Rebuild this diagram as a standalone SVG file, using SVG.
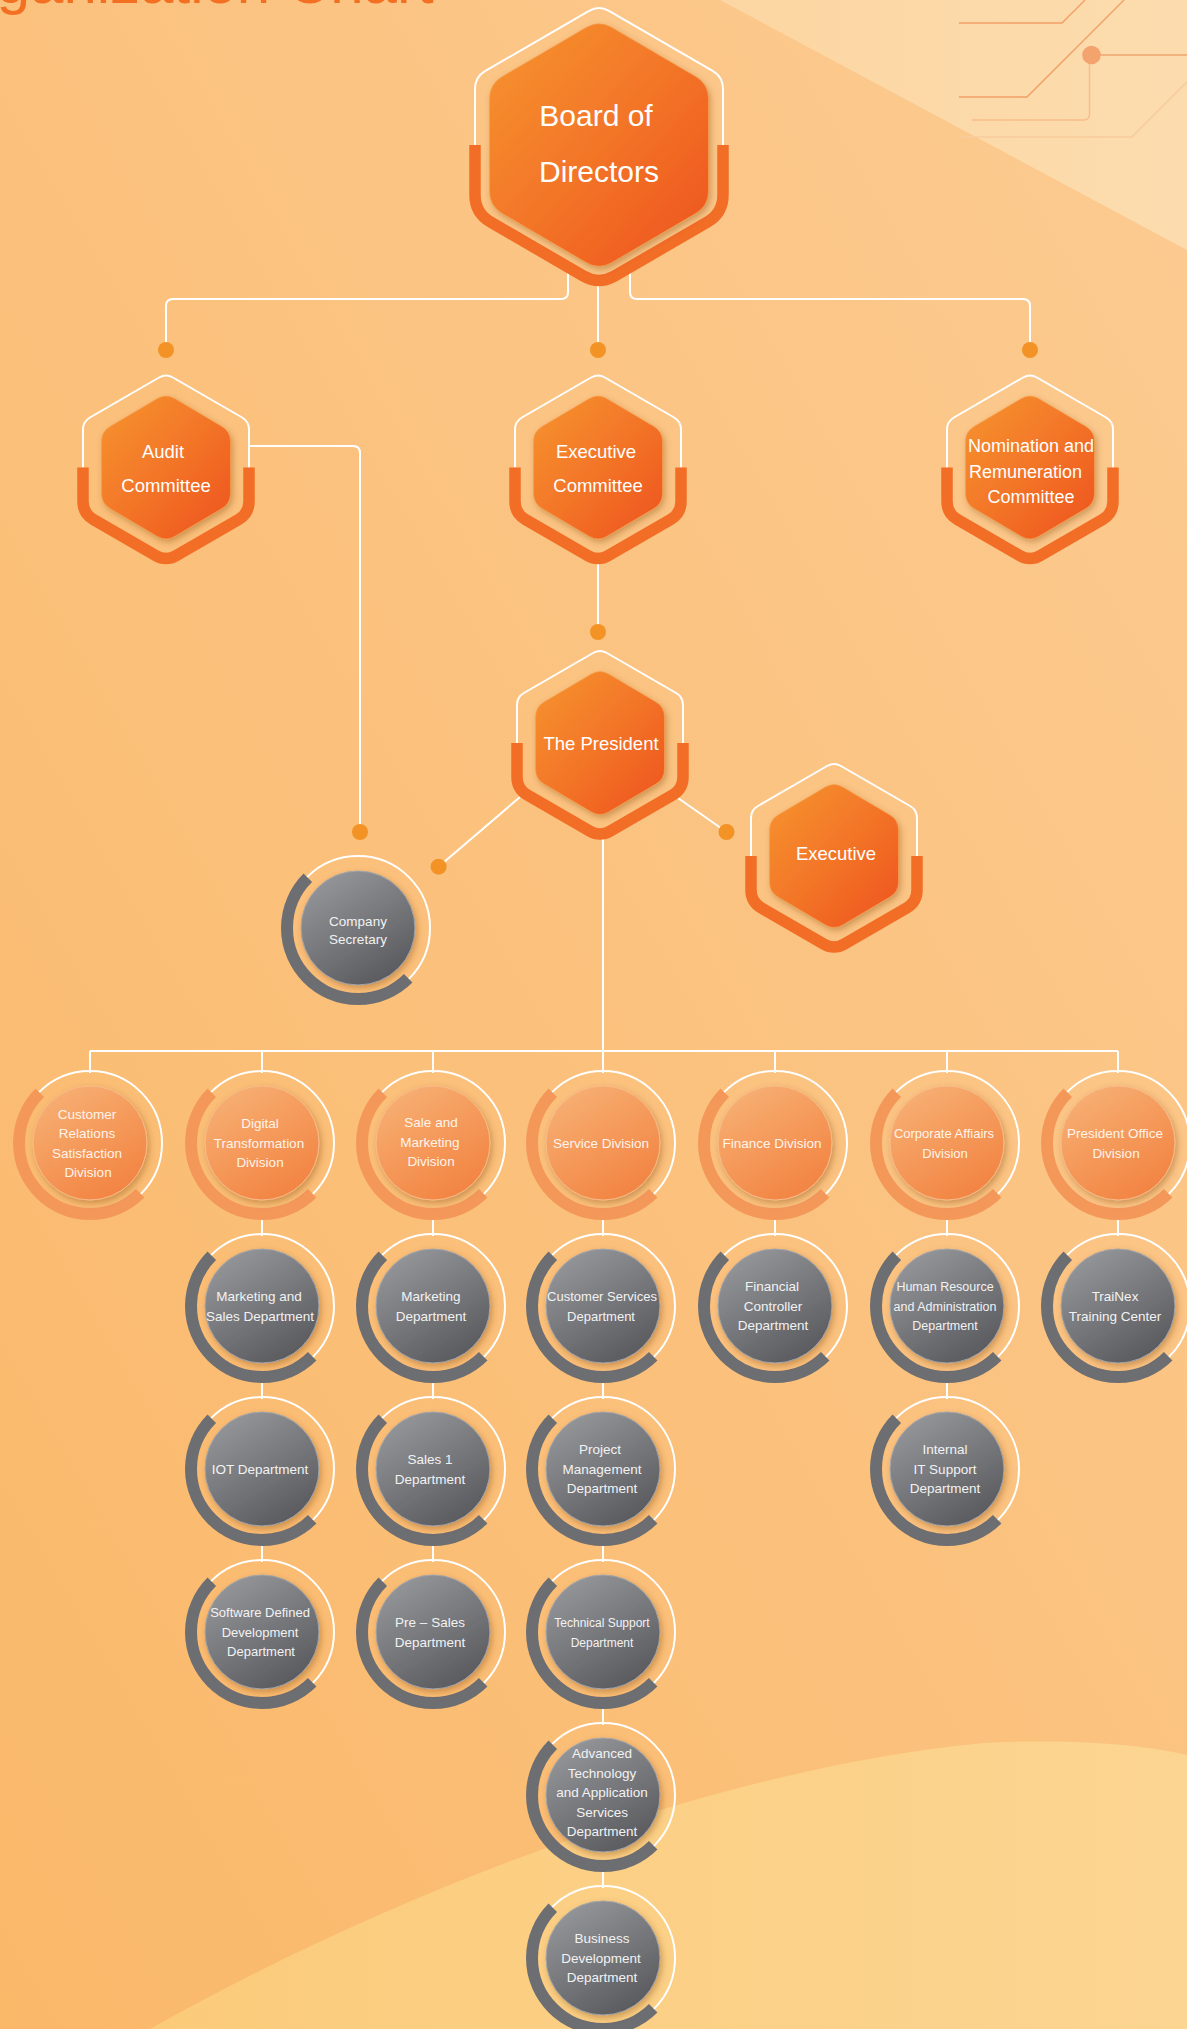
<svg xmlns="http://www.w3.org/2000/svg" xmlns:xlink="http://www.w3.org/1999/xlink" width="1187" height="2029" viewBox="0 0 1187 2029">
<style>
.wire{fill:none;stroke:#fff;stroke-width:2}
.dot{fill:#F39325}
.hx-line{fill:none;stroke:#fff;stroke-width:2}
.hx-brk{fill:none;stroke:#F26D26;stroke-width:11.5}
.hx-in{fill:url(#gHex);stroke:#F7A24C;stroke-width:1;stroke-opacity:.6}
.t{font-family:"Liberation Sans",Arial,Helvetica,sans-serif;text-anchor:middle}
.t-hx{fill:#fff;font-size:18.5px}
.ring{fill:none;stroke:#fff;stroke-width:2}
.arc-o{fill:none;stroke:#F4985A;stroke-width:12}
.arc-g{fill:none;stroke:#6D6E72;stroke-width:12}
.c-o{fill:url(#gOr);stroke:#F8BC88;stroke-width:1}
.c-g{fill:url(#gGr);stroke:#A3A5A9;stroke-width:1}
.t-o{fill:#FFF4EA;font-size:13.5px}
.t-g{fill:#F2F2F2;font-size:13.5px}
.circ{fill:none;stroke-width:1.4}
</style>
<defs>
<linearGradient id="gBg" x1="0" y1="1" x2="1" y2="0">
<stop offset="0" stop-color="#FAB869"/><stop offset="1" stop-color="#FCCB92"/>
</linearGradient>
<linearGradient id="gYel" x1="0" y1="0" x2="1" y2="0">
<stop offset="0" stop-color="#FBCB7A"/><stop offset="1" stop-color="#FCD592"/>
</linearGradient>
<linearGradient id="gTri" x1="0" y1="0" x2="1" y2="0">
<stop offset="0" stop-color="#FCD6A2"/><stop offset="1" stop-color="#FCDCAE"/>
</linearGradient>
<linearGradient id="gHex" x1="0" y1="0" x2="1" y2="1">
<stop offset="0" stop-color="#F6952F"/><stop offset=".5" stop-color="#F37528"/><stop offset="1" stop-color="#EE521C"/>
</linearGradient>
<linearGradient id="gOr" x1=".2" y1="0" x2=".8" y2="1">
<stop offset="0" stop-color="#F7B074"/><stop offset="1" stop-color="#F2813F"/>
</linearGradient>
<linearGradient id="gGr" x1=".2" y1="0" x2=".8" y2="1">
<stop offset="0" stop-color="#97989C"/><stop offset="1" stop-color="#56575B"/>
</linearGradient>
<filter id="sh" x="-25%" y="-25%" width="160%" height="160%">
<feDropShadow dx="2" dy="3" stdDeviation="3" flood-color="#7A3B05" flood-opacity="0.35"/>
</filter>
<path id="hxS-top" d="M -83,0 L -83,-38 Q -83,-46 -76.08,-50 L -6.92,-90 Q 0,-94 6.92,-90 L 76.08,-50 Q 83,-46 83,-38 L 83,0"/>
<path id="hxS-bot" d="M -83,0 L -83,34 Q -83,46 -72.61,52.01 L -10.39,87.99 Q 0,94 10.39,87.99 L 72.61,52.01 Q 83,46 83,34 L 83,0"/>
<path id="hxS-in" d="M -8.61,-68.93 Q 0,-74 8.61,-68.93 L 55.89,-41.07 Q 64.5,-36 64.5,-26 L 64.5,26 Q 64.5,36 55.89,41.07 L 8.61,68.93 Q 0,74 -8.61,68.93 L -55.89,41.07 Q -64.5,36 -64.5,26 L -64.5,-26 Q -64.5,-36 -55.89,-41.07 Z"/>
<path id="hxL-top" d="M -124,0 L -124,-56 Q -124,-68 -113.62,-74.03 L -10.38,-133.97 Q 0,-140 10.38,-133.97 L 113.62,-74.03 Q 124,-68 124,-56 L 124,0"/>
<path id="hxL-bot" d="M -124,0 L -124,50 Q -124,68 -108.44,77.04 L -15.56,130.96 Q 0,140 15.56,130.96 L 108.44,77.04 Q 124,68 124,50 L 124,0"/>
<path id="hxL-in" d="M -12.95,-117.43 Q 0,-125 12.95,-117.43 L 96.55,-68.57 Q 109.5,-61 109.5,-46 L 109.5,46 Q 109.5,61 96.55,68.57 L 12.95,117.43 Q 0,125 -12.95,117.43 L -96.55,68.57 Q -109.5,61 -109.5,46 L -109.5,-46 Q -109.5,-61 -96.55,-68.57 Z"/>
<circle id="ring" r="72"/>
<path id="arc" d="M 50.2,50.2 A 71 71 0 0 1 -50.2,50.2 A 71 71 0 0 1 -50.2,-50.2"/>
<circle id="core" r="57"/>
</defs>

<g id="background">
<rect x="0" y="0" width="1187" height="2029" fill="url(#gBg)"/>
<polygon points="720,0 1187,0 1187,250" fill="url(#gTri)"/>
<path d="M 150,2029 C 380,1900 700,1770 984,1743 C 1080,1738 1150,1746 1187,1755 L 1187,2029 Z" fill="url(#gYel)"/>
<g id="circuit">
<path class="circ" stroke="#F2A068" d="M 959,23 L 1062,23 L 1085,0"/>
<path class="circ" stroke="#F2A068" d="M 959,97 L 1027,97 L 1124,0"/>
<path class="circ" stroke="#F2A470" d="M 1092,55 L 1187,55"/>
<path class="circ" stroke="#F7BD8A" stroke-width="1.8" d="M 1089.5,55 L 1089.5,114 Q 1089.5,120 1083.5,120 L 972,120"/>
<path class="circ" stroke="#F9CB9C" d="M 959,137 L 1132,137 L 1187,82"/>
<circle cx="1091.5" cy="55" r="9.3" fill="#F2A36E"/>
</g>
<text x="-70" y="3" font-family="Liberation Sans, Arial, sans-serif" font-size="60" fill="#F36F21">Organization Chart</text>
</g>

<g id="connectors">
<path class="wire" d="M 568,270 L 568,292 Q 568,299 561,299 L 173,299 Q 166,299 166,306 L 166,344"/>
<path class="wire" d="M 598,280 L 598,344"/>
<path class="wire" d="M 630,270 L 630,292 Q 630,299 637,299 L 1023,299 Q 1030,299 1030,306 L 1030,344"/>
<path class="wire" d="M 598,555 L 598,626"/>
<path class="wire" d="M 249,446 L 353,446 Q 360,446 360,453 L 360,826"/>
<path class="wire" d="M 520,797 L 438.6,866.7"/>
<path class="wire" d="M 678,798 L 726.5,832"/>
<path class="wire" d="M 603,830 L 603,1051"/>
<path class="wire" d="M 90,1051 L 1118,1051"/>
<path class="wire" d="M 90,1051 V 1073 M 262,1051 V 1073 M 433,1051 V 1073 M 775,1051 V 1073 M 947,1051 V 1073 M 1118,1051 V 1073 M 603,1051 V 1073"/>
<path class="wire" d="M 262,1215 V 1236 M 262,1378 V 1399 M 262,1541 V 1562"/>
<path class="wire" d="M 433,1215 V 1236 M 433,1378 V 1399 M 433,1541 V 1562"/>
<path class="wire" d="M 603,1215 V 1236 M 603,1378 V 1399 M 603,1541 V 1562 M 603,1704 V 1725 M 603,1867 V 1888"/>
<path class="wire" d="M 775,1215 V 1236"/>
<path class="wire" d="M 947,1215 V 1236 M 947,1378 V 1399"/>
<path class="wire" d="M 1118,1215 V 1236"/>
<circle class="dot" cx="166" cy="350" r="8"/>
<circle class="dot" cx="598" cy="350" r="8"/>
<circle class="dot" cx="1030" cy="350" r="8"/>
<circle class="dot" cx="598" cy="632" r="8"/>
<circle class="dot" cx="360" cy="832" r="8"/>
<circle class="dot" cx="438.6" cy="866.7" r="8"/>
<circle class="dot" cx="726.5" cy="832" r="8"/>
</g>

<g id="n-board" transform="translate(599,145)">
<use href="#hxL-top" class="hx-line"/>
<use href="#hxL-bot" class="hx-brk"/>
<use href="#hxL-in" class="hx-in" filter="url(#sh)"/>
<text class="t" fill="#fff" font-size="30"><tspan x="-3" y="-19">Board of</tspan><tspan x="0" y="37">Directors</tspan></text>
</g>

<g id="n-audit" transform="translate(166,467.5)">
<use href="#hxS-top" class="hx-line"/>
<use href="#hxS-bot" class="hx-brk"/>
<use href="#hxS-in" class="hx-in" filter="url(#sh)"/>
<text class="t t-hx"><tspan x="-3" y="-9.5">Audit</tspan><tspan x="0" y="24.5">Committee</tspan></text>
</g>

<g id="n-exec-committee" transform="translate(598,467.5)">
<use href="#hxS-top" class="hx-line"/>
<use href="#hxS-bot" class="hx-brk"/>
<use href="#hxS-in" class="hx-in" filter="url(#sh)"/>
<text class="t t-hx"><tspan x="-2" y="-9.5">Executive</tspan><tspan x="0" y="24.5">Committee</tspan></text>
</g>

<g id="n-nomination" transform="translate(1030,467.5)">
<use href="#hxS-top" class="hx-line"/>
<use href="#hxS-bot" class="hx-brk"/>
<use href="#hxS-in" class="hx-in" filter="url(#sh)"/>
<text class="t t-hx" font-size="18px" style="font-size:18px"><tspan x="1" y="-16">Nomination and</tspan><tspan x="-2" y="10.5">Remuneration </tspan><tspan x="1" y="35.5">Committee</tspan></text>
</g>

<g id="n-president" transform="translate(600,743)">
<use href="#hxS-top" class="hx-line"/>
<use href="#hxS-bot" class="hx-brk"/>
<use href="#hxS-in" class="hx-in" filter="url(#sh)"/>
<text class="t t-hx" x="1" y="6.5">The President</text>
</g>

<g id="n-executive" transform="translate(834,856)">
<use href="#hxS-top" class="hx-line"/>
<use href="#hxS-bot" class="hx-brk"/>
<use href="#hxS-in" class="hx-in" filter="url(#sh)"/>
<text class="t t-hx" x="2" y="4">Executive</text>
</g>

<g id="n-company-secretary" transform="translate(358,928)">
<use href="#ring" class="ring"/><use href="#arc" class="arc-g"/><use href="#core" class="c-g" filter="url(#sh)"/>
<text class="t t-g"><tspan x="0" y="-2.5">Company</tspan><tspan x="0" y="16">Secretary</tspan></text>
</g>

<g id="n-customer-relations" transform="translate(90,1143)">
<use href="#ring" class="ring"/><use href="#arc" class="arc-o"/><use href="#core" class="c-o" filter="url(#sh)"/>
<text class="t t-o"><tspan x="-3" y="-24.5">Customer</tspan><tspan x="-3" y="-5">Relations</tspan><tspan x="-3" y="14.5">Satisfaction</tspan><tspan x="-2" y="34">Division</tspan></text>
</g>
<g id="n-digital-transformation" transform="translate(262,1143)">
<use href="#ring" class="ring"/><use href="#arc" class="arc-o"/><use href="#core" class="c-o" filter="url(#sh)"/>
<text class="t t-o"><tspan x="-2" y="-14.8">Digital</tspan><tspan x="-3" y="4.7">Transformation</tspan><tspan x="-2" y="24.2">Division</tspan></text>
</g>
<g id="n-sale-marketing" transform="translate(433,1143)">
<use href="#ring" class="ring"/><use href="#arc" class="arc-o"/><use href="#core" class="c-o" filter="url(#sh)"/>
<text class="t t-o"><tspan x="-2" y="-16">Sale and</tspan><tspan x="-3" y="3.5">Marketing</tspan><tspan x="-2" y="23">Division</tspan></text>
</g>
<g id="n-service-division" transform="translate(603,1143)">
<use href="#ring" class="ring"/><use href="#arc" class="arc-o"/><use href="#core" class="c-o" filter="url(#sh)"/>
<text class="t t-o" x="-2" y="4.7">Service Division</text>
</g>
<g id="n-finance-division" transform="translate(775,1143)">
<use href="#ring" class="ring"/><use href="#arc" class="arc-o"/><use href="#core" class="c-o" filter="url(#sh)"/>
<text class="t t-o" x="-3" y="4.7">Finance Division</text>
</g>
<g id="n-corporate-affairs" transform="translate(947,1143)">
<use href="#ring" class="ring"/><use href="#arc" class="arc-o"/><use href="#core" class="c-o" filter="url(#sh)"/>
<text class="t t-o" style="font-size:13px"><tspan x="-3" y="-5">Corporate Affiairs</tspan><tspan x="-2" y="14.5">Division</tspan></text>
</g>
<g id="n-president-office" transform="translate(1118,1143)">
<use href="#ring" class="ring"/><use href="#arc" class="arc-o"/><use href="#core" class="c-o" filter="url(#sh)"/>
<text class="t t-o"><tspan x="-3" y="-5">President Office</tspan><tspan x="-2" y="14.5">Division</tspan></text>
</g>

<g id="n-marketing-sales" transform="translate(262,1306)">
<use href="#ring" class="ring"/><use href="#arc" class="arc-g"/><use href="#core" class="c-g" filter="url(#sh)"/>
<text class="t t-g"><tspan x="-3" y="-5">Marketing and</tspan><tspan x="-2" y="14.5">Sales Department</tspan></text>
</g>
<g id="n-marketing-dept" transform="translate(433,1306)">
<use href="#ring" class="ring"/><use href="#arc" class="arc-g"/><use href="#core" class="c-g" filter="url(#sh)"/>
<text class="t t-g"><tspan x="-2" y="-5">Marketing</tspan><tspan x="-2" y="14.5">Department</tspan></text>
</g>
<g id="n-customer-services" transform="translate(603,1306)">
<use href="#ring" class="ring"/><use href="#arc" class="arc-g"/><use href="#core" class="c-g" filter="url(#sh)"/>
<text class="t t-g" style="font-size:13px"><tspan x="-1" y="-5">Customer Services</tspan><tspan x="-2" y="14.5">Department</tspan></text>
</g>
<g id="n-financial-controller" transform="translate(775,1306)">
<use href="#ring" class="ring"/><use href="#arc" class="arc-g"/><use href="#core" class="c-g" filter="url(#sh)"/>
<text class="t t-g"><tspan x="-3" y="-14.8">Financial</tspan><tspan x="-2" y="4.7">Controller</tspan><tspan x="-2" y="24.2">Department</tspan></text>
</g>
<g id="n-human-resource" transform="translate(947,1306)">
<use href="#ring" class="ring"/><use href="#arc" class="arc-g"/><use href="#core" class="c-g" filter="url(#sh)"/>
<text class="t t-g" style="font-size:12.5px"><tspan x="-2" y="-14.8">Human Resource</tspan><tspan x="-2" y="4.7">and Administration</tspan><tspan x="-2" y="24.2">Department</tspan></text>
</g>
<g id="n-trainex" transform="translate(1118,1306)">
<use href="#ring" class="ring"/><use href="#arc" class="arc-g"/><use href="#core" class="c-g" filter="url(#sh)"/>
<text class="t t-g"><tspan x="-3" y="-5">TraiNex</tspan><tspan x="-3" y="14.5">Training Center</tspan></text>
</g>

<g id="n-iot" transform="translate(262,1469)">
<use href="#ring" class="ring"/><use href="#arc" class="arc-g"/><use href="#core" class="c-g" filter="url(#sh)"/>
<text class="t t-g" x="-2" y="4.7">IOT Department</text>
</g>
<g id="n-sales1" transform="translate(433,1469)">
<use href="#ring" class="ring"/><use href="#arc" class="arc-g"/><use href="#core" class="c-g" filter="url(#sh)"/>
<text class="t t-g"><tspan x="-3" y="-5">Sales 1</tspan><tspan x="-3" y="14.5">Department</tspan></text>
</g>
<g id="n-project-management" transform="translate(603,1469)">
<use href="#ring" class="ring"/><use href="#arc" class="arc-g"/><use href="#core" class="c-g" filter="url(#sh)"/>
<text class="t t-g"><tspan x="-3" y="-14.8">Project</tspan><tspan x="-1" y="4.7">Management</tspan><tspan x="-1" y="24.2">Department</tspan></text>
</g>
<g id="n-internal-it" transform="translate(947,1469)">
<use href="#ring" class="ring"/><use href="#arc" class="arc-g"/><use href="#core" class="c-g" filter="url(#sh)"/>
<text class="t t-g"><tspan x="-2" y="-14.8">Internal</tspan><tspan x="-2" y="4.7">IT Support</tspan><tspan x="-2" y="24.2">Department</tspan></text>
</g>

<g id="n-software-defined" transform="translate(262,1632)">
<use href="#ring" class="ring"/><use href="#arc" class="arc-g"/><use href="#core" class="c-g" filter="url(#sh)"/>
<text class="t t-g" style="font-size:13px"><tspan x="-2" y="-14.8">Software Defined</tspan><tspan x="-2" y="4.7">Development</tspan><tspan x="-1" y="24.2">Department</tspan></text>
</g>
<g id="n-pre-sales" transform="translate(433,1632)">
<use href="#ring" class="ring"/><use href="#arc" class="arc-g"/><use href="#core" class="c-g" filter="url(#sh)"/>
<text class="t t-g"><tspan x="-3" y="-5">Pre – Sales</tspan><tspan x="-3" y="14.5">Department</tspan></text>
</g>
<g id="n-technical-support" transform="translate(603,1632)">
<use href="#ring" class="ring"/><use href="#arc" class="arc-g"/><use href="#core" class="c-g" filter="url(#sh)"/>
<text class="t t-g" style="font-size:12px"><tspan x="-1" y="-5">Technical Support</tspan><tspan x="-1" y="14.5">Department</tspan></text>
</g>

<g id="n-advanced-technology" transform="translate(603,1795)">
<use href="#ring" class="ring"/><use href="#arc" class="arc-g"/><use href="#core" class="c-g" filter="url(#sh)"/>
<text class="t t-g"><tspan x="-1" y="-37">Advanced</tspan><tspan x="-1" y="-17.5">Technology</tspan><tspan x="-1" y="2">and Application</tspan><tspan x="-1" y="21.5">Services</tspan><tspan x="-1" y="41">Department</tspan></text>
</g>
<g id="n-business-development" transform="translate(603,1958)">
<use href="#ring" class="ring"/><use href="#arc" class="arc-g"/><use href="#core" class="c-g" filter="url(#sh)"/>
<text class="t t-g"><tspan x="-1" y="-14.8">Business</tspan><tspan x="-2" y="4.7">Development</tspan><tspan x="-1" y="24.2">Department</tspan></text>
</g>
</svg>
